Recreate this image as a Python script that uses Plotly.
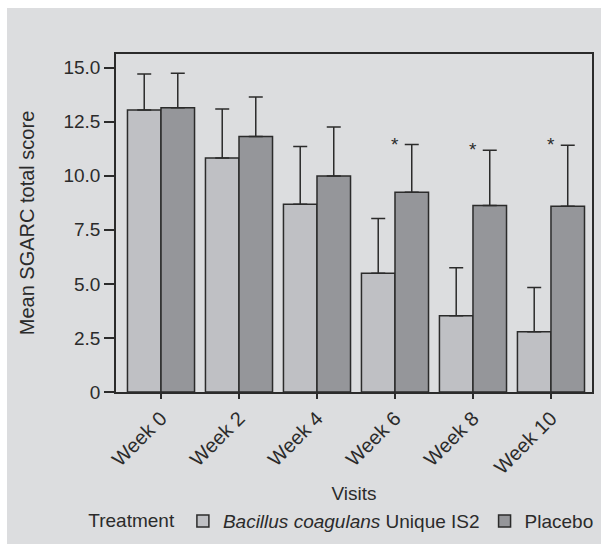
import plotly.graph_objects as go

# Visit labels and group means with upper SD
visits = ["Week 0", "Week 2", "Week 4", "Week 6", "Week 8", "Week 10"]
probiotic_mean = [13.04, 10.82, 8.68, 5.49, 3.53, 2.79]
probiotic_sd = [1.67, 2.27, 2.67, 2.53, 2.21, 2.04]
placebo_mean = [13.15, 11.81, 9.99, 9.24, 8.63, 8.59]
placebo_sd = [1.59, 1.83, 2.27, 2.20, 2.55, 2.82]
significant = [False, False, False, True, True, True]

y_ticks = [0, 2.5, 5.0, 7.5, 10.0, 12.5, 15.0]
y_tick_text = ["0", "2.5", "5.0", "7.5", "10.0", "12.5", "15.0"]

FONT = "Liberation Sans, Arial, sans-serif"
INK = "#2b2b2b"

fig = go.Figure()
fig.add_trace(go.Bar(
    x=visits, y=probiotic_mean,
    name="<i>Bacillus coagulans</i> Unique IS2",
    marker=dict(color="#bfc0c4", line=dict(color=INK, width=1.5)),
    error_y=dict(type="data", array=probiotic_sd, arrayminus=[0] * len(visits),
                 symmetric=False, color=INK, thickness=1.5, width=7),
))
fig.add_trace(go.Bar(
    x=visits, y=placebo_mean,
    name="Placebo",
    marker=dict(color="#95969a", line=dict(color=INK, width=1.5)),
    error_y=dict(type="data", array=placebo_sd, arrayminus=[0] * len(visits),
                 symmetric=False, color=INK, thickness=1.5, width=7),
))

# Significance markers above each week with a between-group difference
for v, m, s, sig in zip(visits, placebo_mean, placebo_sd, significant):
    if sig:
        fig.add_annotation(x=v, y=m + s, text="*", showarrow=False,
                           xanchor="center", yanchor="bottom", yshift=-12,
                           font=dict(family=FONT, size=19, color=INK))

# Grey panel behind the whole chart
fig.add_shape(type="rect", xref="paper", yref="paper",
              x0=-0.229, x1=1.03, y0=-0.4497, y1=1.136,
              fillcolor="#dcdddf", line=dict(width=0), layer="below")

fig.update_layout(
    width=601, height=545,
    margin=dict(l=116, r=9, t=54, b=153, autoexpand=False),
    paper_bgcolor="white", plot_bgcolor="white",
    barmode="group", bargap=0.14, bargroupgap=0,
    font=dict(family=FONT, size=19, color=INK),
    showlegend=True,
    legend=dict(orientation="h", x=-0.0624, xanchor="left", y=-0.382, yanchor="middle",
                title=dict(text="Treatment", side="left", font=dict(size=19)),
                font=dict(size=19), bgcolor="rgba(0,0,0,0)",
                itemwidth=30, tracegroupgap=0),
    xaxis=dict(type="category", range=[-0.577, 5.526],
               showline=True, mirror=True, linecolor=INK, linewidth=1.5,
               ticks="outside", ticklen=5, tickwidth=1.5, tickcolor=INK,
               tickangle=-45, tickfont=dict(size=20),
               title=dict(text="Visits", font=dict(size=19), standoff=9),
               showgrid=False, zeroline=False, automargin=False),
    yaxis=dict(range=[0, 15.63], tickvals=y_ticks, ticktext=y_tick_text,
               showline=True, mirror=True, linecolor=INK, linewidth=1.5,
               ticks="outside", ticklen=10, tickwidth=1.5, tickcolor=INK,
               tickfont=dict(size=19),
               title=dict(text="Mean SGARC total score", font=dict(size=20), standoff=23),
               showgrid=False, zeroline=False, automargin=False),
)

fig.write_html("out.html")
